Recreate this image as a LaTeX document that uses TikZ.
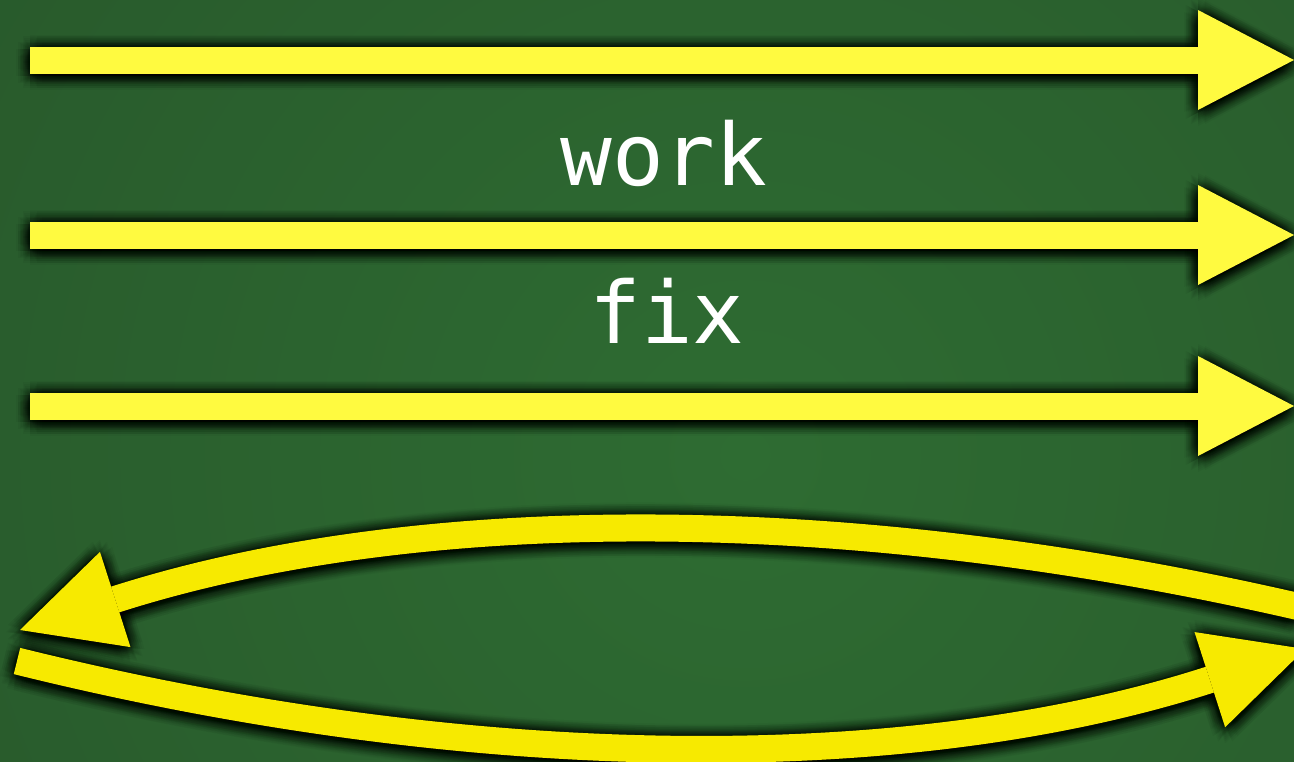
\documentclass[tikz,border=0pt]{standalone}
\usepackage{fontspec}
\newfontfamily\labelmono{DejaVu Sans Mono}
\usetikzlibrary{arrows.meta}
\definecolor{bgdark}{RGB}{35,74,38}
\definecolor{bglight}{RGB}{46,108,50}
\definecolor{straightyellow}{RGB}{255,250,64}
\definecolor{curveyellow}{RGB}{247,234,0}
\newcommand\drawallarrows[2]{%
  \draw[straightarrow,#1] (s1) -- (e1);
  \draw[straightarrow,#1] (s2) -- (e2);
  \draw[straightarrow,#1] (s3) -- (e3);
  \draw[curvearrow,#2] (u0) .. controls (ua) and (ub) .. (u1);
  \draw[curvearrow,#2] (l0) .. controls (la) and (lb) .. (l1);
}
\begin{document}
\begin{tikzpicture}[x=1pt,y=-1pt,
  straightarrow/.style={line width=27pt,-{Triangle[length=96pt,width=100pt,line width=0pt]}},
  curvearrow/.style={line width=27pt,-{Triangle[length=100pt,width=100pt,line width=0pt]}},
  labeltext/.style={font=\labelmono\fontsize{86}{86}\selectfont,text=white,anchor=base,inner sep=0pt}]
\useasboundingbox (0,0) rectangle (1294,761);
\fill[bgdark] (0,0) rectangle (1294,761);
\begin{scope}
  \clip (0,0) rectangle (1294,761);
  \shade[inner color=bglight,outer color=bgdark] (745,455) circle[radius=1700pt];
\end{scope}
% anchor points
\coordinate (s1) at (30,60);   \coordinate (e1) at (1294,60);
\coordinate (s2) at (30,235);  \coordinate (e2) at (1294,235);
\coordinate (s3) at (30,406);  \coordinate (e3) at (1294,406);
\coordinate (u0) at (1300,607); \coordinate (ua) at (831.3,499); \coordinate (ub) at (404.7,506.7); \coordinate (u1) at (20,630);
\coordinate (l0) at (17,661);   \coordinate (la) at (488.3,777.7); \coordinate (lb) at (917.7,773.7); \coordinate (l1) at (1305,649);
% soft shadows
\begin{scope}
\clip (0,0) rectangle (1294,761);
\foreach \r in {2,4,...,14}{
  \foreach \a in {0,30,...,330}{
    \begin{scope}[transform canvas={shift={({\r*cos(\a)},{\r*sin(\a)+2})}}]
      \drawallarrows{black,opacity=0.035}{black,opacity=0.035}
    \end{scope}
  }
}
\end{scope}
% arrows
\drawallarrows{straightyellow}{curveyellow}
% labels
\node[labeltext] (work) at (664,185) {work};
\node[labeltext] (fix) at (667,343) {fix};
\end{tikzpicture}
\end{document}
